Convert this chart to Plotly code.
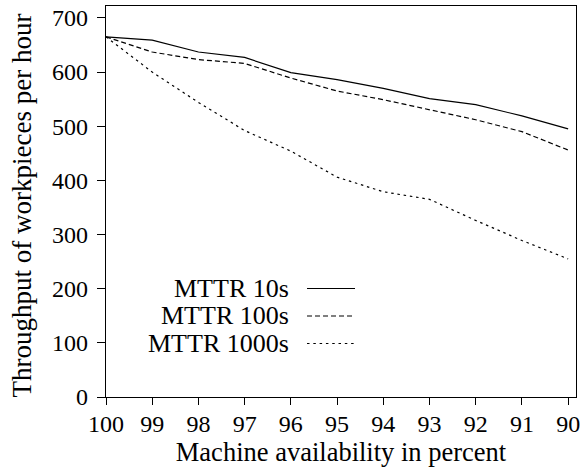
import plotly.graph_objects as go

# Data
availability = [100, 99, 98, 97, 96, 95, 94, 93, 92, 91, 90]
mttr_10s = [665, 659, 637, 627, 599, 586, 570, 551, 540, 519, 495]
mttr_100s = [665, 637, 623, 616, 589, 565, 549, 531, 512, 490, 456]
mttr_1000s = [665, 600, 544, 492, 454, 406, 379, 365, 326, 289, 255]

series_names = ["MTTR 10s", "MTTR 100s", "MTTR 1000s"]
series_values = [mttr_10s, mttr_100s, mttr_1000s]
dashes = ["solid", "5px,3px", "2.5px,3.8px"]

x_ticks = [100, 99, 98, 97, 96, 95, 94, 93, 92, 91, 90]
y_ticks = [0, 100, 200, 300, 400, 500, 600, 700]

x_title = "Machine availability in percent"
y_title = "Throughput of workpieces per hour"

FONT = "Liberation Serif"

fig = go.Figure()
for name, vals, dash in zip(series_names, series_values, dashes):
    fig.add_trace(go.Scatter(
        x=availability, y=vals, mode="lines", name=name,
        line=dict(color="black", width=1.2, dash=dash),
        showlegend=False, hoverinfo="skip",
    ))

# Custom legend (text right-aligned, sample line on the right)
legend_text_x = 0.3936
legend_line_x0 = 0.4277
legend_line_x1 = 0.5298
legend_rows = [0.2775, 0.2072, 0.1368]
for name, dash, ry in zip(series_names, dashes, legend_rows):
    fig.add_annotation(
        x=legend_text_x, y=ry, xref="paper", yref="paper",
        text=name, showarrow=False, xanchor="right", yanchor="middle",
        font=dict(family=FONT, size=26, color="black"),
    )
    fig.add_shape(
        type="line", xref="paper", yref="paper",
        x0=legend_line_x0, x1=legend_line_x1, y0=ry, y1=ry,
        line=dict(color="black", width=1.2, dash=dash),
    )

# Y axis title as rotated annotation
fig.add_annotation(
    x=-0.1787, y=0.49, xref="paper", yref="paper",
    text=y_title, showarrow=False, textangle=-90,
    xanchor="center", yanchor="middle",
    font=dict(family=FONT, size=27, color="black"),
)

fig.update_layout(
    width=582, height=468,
    margin=dict(l=106, r=6, t=6, b=71, autoexpand=False),
    paper_bgcolor="white", plot_bgcolor="white",
    font=dict(family=FONT, size=24, color="black"),
    showlegend=False,
)
fig.update_xaxes(
    range=[100, 89.83],
    tickvals=x_ticks, ticktext=[str(v) for v in x_ticks],
    ticks="outside", ticklen=7, tickwidth=1.3, tickcolor="black",
    showline=True, linecolor="black", linewidth=1.3, mirror=True,
    showgrid=False, zeroline=False,
    tickfont=dict(family=FONT, size=24),
    ticklabelstandoff=-2,
    title=dict(text=x_title, font=dict(family=FONT, size=26.5), standoff=0),
)
fig.update_yaxes(
    range=[0, 722],
    tickvals=y_ticks, ticktext=[str(v) for v in y_ticks],
    ticks="outside", ticklen=8, tickwidth=1.3, tickcolor="black",
    showline=True, linecolor="black", linewidth=1.3, mirror=True,
    showgrid=False, zeroline=False,
    tickfont=dict(family=FONT, size=24),
    ticklabelstandoff=4,
)

fig.write_html(
    "out.html",
    config={"displayModeBar": False},
    post_script="document.body.style.margin='0';document.body.style.overflow='hidden';",
)
